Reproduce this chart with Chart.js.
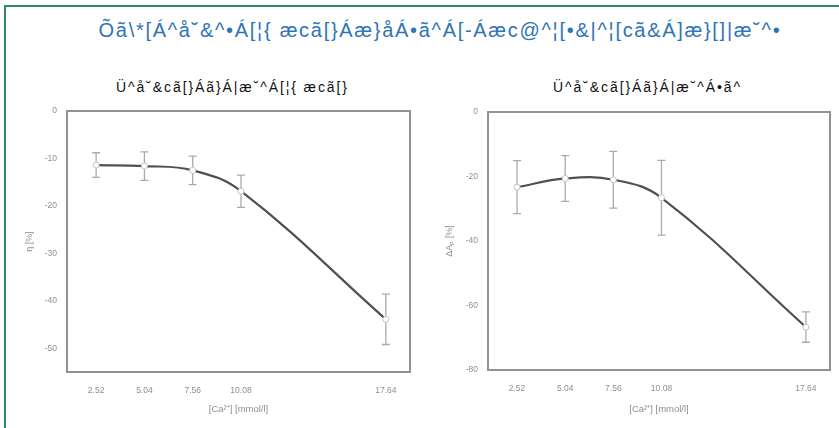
<!DOCTYPE html>
<html>
<head>
<meta charset="utf-8">
<script src="https://cdn.jsdelivr.net/npm/chart.js@4"></script>
<style>
  html, body { margin: 0; padding: 0; background: #fff; }
  body { width: 839px; height: 428px; position: relative; overflow: hidden; font-family: "Liberation Sans", Arial, sans-serif; }
  #marco { position: absolute; left: 4px; top: 5px; width: 900px; height: 500px; border: 2px solid #2f8a68; border-right: none; border-bottom: none; }
  #titulo { position: absolute; left: 0; width: 880px; top: 19px; text-align: center; font-size: 20px; letter-spacing: 1.7px; color: #2f74b5; white-space: nowrap; }
  .sub { position: absolute; top: 79px; font-size: 14px; letter-spacing: 1.9px; color: #111; white-space: nowrap; text-align: center; }
  .caja { position: absolute; top: 100px; height: 328px; }
</style>
</head>
<body>
<div id="marco"></div>
<div id="titulo">Õã\*[Á^å˘&^•Á[¦{ æcã[}Áæ}åÁ•ã^Á[-Áæc@^¦[•&|^¦[cã&Á]æ}[]|æ˘^•</div>
<div class="sub" style="left:90px;width:285px;">Ü^å˘&cã[}Áã}Á|æ˘^Á[¦{ æcã[}</div>
<div class="sub" style="left:505px;width:285px;">Ü^å˘&cã[}Áã}Á|æ˘^Á•ã^</div>
<div class="caja" style="left:0;width:420px;"><canvas id="g1" width="420" height="328"></canvas></div>
<div class="caja" style="left:420px;width:419px;"><canvas id="g2" width="419" height="328"></canvas></div>
<script>
// concentraciones de calcio (eje X) y marcas del eje
const calcio = [2.52, 5.04, 7.56, 10.08, 17.64];
const ticksX = [2.52, 5.04, 7.56, 10.08, 17.64];

// grafica izquierda: reduccion en formacion
const formacion = [-11.4, -11.6, -12.5, -16.9, -43.9];
const errFormacion = [2.6, 3.0, 3.0, 3.4, 5.3];
const ticksY1 = [-50, -40, -30, -20, -10, 0];

// grafica derecha: reduccion en tamano
const tamano = [-23.3, -20.6, -21.0, -26.6, -66.7];
const errTamano = [8.2, 7.1, 8.8, 11.6, 4.7];
const ticksY2 = [-80, -60, -40, -20, 0];

const GRIS_TXT = '#8f8f8f';

// barras de error + marco del area de trazado
const pluginErrores = {
  id: 'errores',
  beforeDatasetsDraw(chart) {
    const errs = chart.options.plugins.errores.valores;
    const ds = chart.data.datasets[0].data;
    const { ctx, scales: { x, y } } = chart;
    ctx.save();
    ctx.strokeStyle = '#ababab';
    ctx.lineWidth = 1.3;
    ds.forEach((p, i) => {
      const px = x.getPixelForValue(p.x);
      const y1 = y.getPixelForValue(p.y + errs[i]);
      const y2 = y.getPixelForValue(p.y - errs[i]);
      ctx.beginPath();
      ctx.moveTo(px, y1); ctx.lineTo(px, y2);
      ctx.moveTo(px - 4, y1); ctx.lineTo(px + 4, y1);
      ctx.moveTo(px - 4, y2); ctx.lineTo(px + 4, y2);
      ctx.stroke();
    });
    ctx.restore();
  },
  afterDraw(chart) {
    const a = chart.chartArea, ctx = chart.ctx;
    ctx.save();
    ctx.strokeStyle = '#929292';
    ctx.lineWidth = 2;
    ctx.strokeRect(a.left, a.top, a.right - a.left, a.bottom - a.top);
    ctx.restore();
  }
};

function crearGrafica(id, valores, errores, cfg) {
  return new Chart(document.getElementById(id), {
    type: 'line',
    data: {
      datasets: [{
        data: calcio.map((c, i) => ({ x: c, y: valores[i] })),
        borderColor: '#505050', borderWidth: 2.2, tension: 0.4,
        pointRadius: 3, pointBackgroundColor: '#fff', pointBorderColor: '#c4c4c4', pointBorderWidth: 1,
        fill: false,
      }],
    },
    options: {
      responsive: false, animation: false,
      layout: { padding: { top: cfg.top, right: cfg.right, left: 24, bottom: 9 } },
      plugins: { legend: { display: false }, tooltip: { enabled: false }, errores: { valores: errores } },
      scales: {
        x: {
          type: 'linear', min: 1, max: 18.9,
          afterBuildTicks: ax => { ax.ticks = ticksX.map(v => ({ value: v })); },
          afterFit: ax => { ax.height = cfg.altoX - 9; },
          grid: { display: false }, border: { display: false },
          ticks: { color: GRIS_TXT, font: { size: 8.5 }, padding: 6, maxRotation: 0, callback: v => v.toFixed(2) },
          title: { display: true, text: '[Ca²⁺] [mmol/l]', color: GRIS_TXT, font: { size: 9.5 }, padding: { top: 3 } },
        },
        y: {
          min: cfg.min, max: 0,
          afterBuildTicks: ax => { ax.ticks = cfg.ticks.map(v => ({ value: v })); },
          afterFit: ax => { ax.width = cfg.anchoY - 24; },
          grid: { display: false }, border: { display: false },
          ticks: { color: GRIS_TXT, font: { size: 8.5 }, padding: 2 },
          title: { display: true, text: cfg.etiqueta, color: GRIS_TXT, font: { size: 9 }, padding: { top: 0, bottom: 0 } },
        },
      },
    },
    plugins: [pluginErrores],
  });
}

crearGrafica('g1', formacion, errFormacion, { min: -55, ticks: ticksY1, etiqueta: 'η [%]', top: 11, right: 10, altoX: 56, anchoY: 67 });
crearGrafica('g2', tamano, errTamano, { min: -80, ticks: ticksY2, etiqueta: 'ΔAₚ [%]', top: 12, right: 9, altoX: 58, anchoY: 68 });
</script>
</body>
</html>
